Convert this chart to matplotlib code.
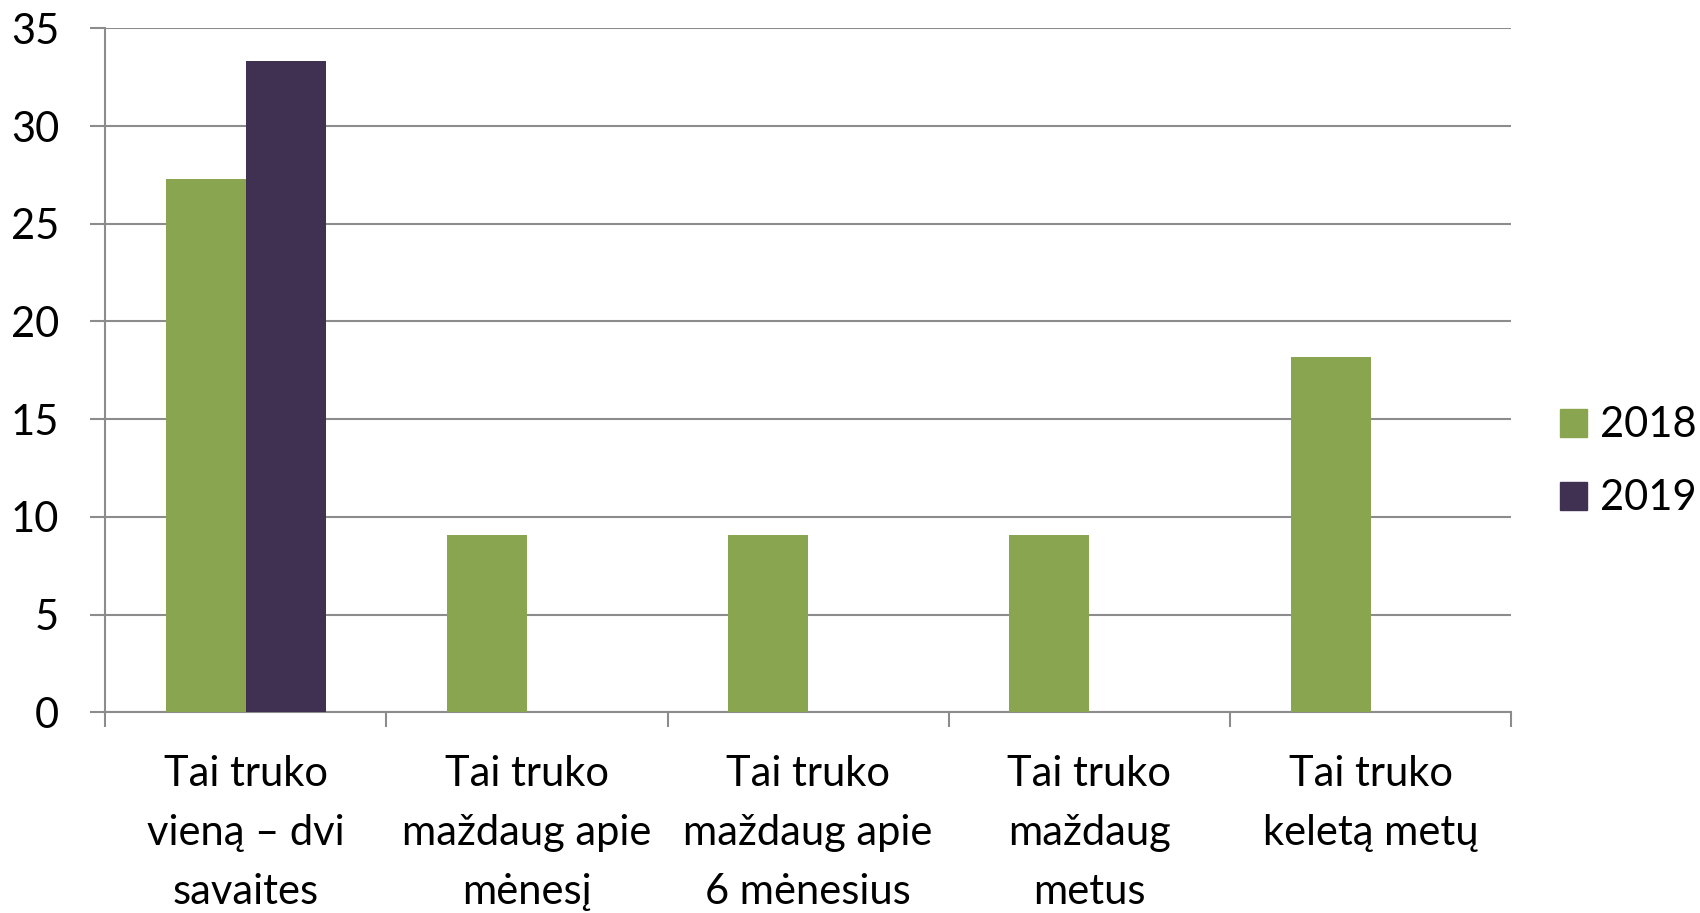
"""Grouped bar chart: kiek truko (2018 vs 2019)."""

import matplotlib as mpl
import matplotlib.pyplot as plt
import numpy as np
from matplotlib.patches import Patch

GREEN = "#8AA550"
PURPLE = "#403152"
GRID = "#8C8C8C"
INK = "#000000"

CATEGORIES = [
    "Tai truko\nvieną – dvi\nsavaites",
    "Tai truko\nmaždaug apie\nmėnesį",
    "Tai truko\nmaždaug apie\n6 mėnesius",
    "Tai truko\nmaždaug\nmetus",
    "Tai truko\nkeletą metų",
]
SERIES = ["2018", "2019"]
VALUES_2018 = [27.27, 9.09, 9.09, 9.09, 18.18]
VALUES_2019 = [33.33, 0, 0, 0, 0]
Y_TICKS = [0, 5, 10, 15, 20, 25, 30, 35]

mpl.rcParams.update(
    {
        "font.family": ["Lato", "DejaVu Sans"],
        "font.size": 30,
        "text.color": INK,
        "xtick.color": GRID,
        "ytick.color": GRID,
        "xtick.labelcolor": INK,
        "ytick.labelcolor": INK,
    }
)

fig = plt.figure(figsize=(17, 9.13), dpi=100)
ax = fig.add_axes([0.0618, 0.2198, 0.889 - 0.0618, 0.969 - 0.2198])

x = np.arange(len(CATEGORIES))
w = 0.285
ax.bar(x - w / 2, VALUES_2018, width=w, color=GREEN, zorder=3, linewidth=0)
ax.bar(x + w / 2, VALUES_2019, width=w, color=PURPLE, zorder=3, linewidth=0)

ax.set_xlim(-0.5, len(CATEGORIES) - 0.5)
ax.set_ylim(0, 35)
ax.set_yticks(Y_TICKS)
ax.grid(axis="y", color=GRID, lw=1.5, zorder=0)
ax.set_axisbelow(True)

for side in ["top", "right"]:
    ax.spines[side].set_visible(False)
for side in ["left", "bottom"]:
    ax.spines[side].set_color(GRID)
    ax.spines[side].set_linewidth(1.5)

ax.set_xticks(x)
ax.set_xticklabels(CATEGORIES, linespacing=1.67)
ax.set_xticks(np.arange(len(CATEGORIES) + 1) - 0.5, minor=True)
ax.tick_params(axis="x", which="major", length=0, pad=31)
ax.tick_params(axis="x", which="minor", length=11, width=1.5, direction="out")
ax.tick_params(axis="y", length=11, width=1.5, pad=22)

handles = [Patch(color=GREEN, label=SERIES[0]), Patch(color=PURPLE, label=SERIES[1])]
fig.legend(
    handles=handles,
    loc="center left",
    bbox_to_anchor=(0.9078, 0.494),
    frameon=False,
    handlelength=0.65,
    handleheight=0.65,
    handletextpad=0.3,
    labelspacing=0.84,
    borderaxespad=0,
)

fig.savefig("out.png", dpi=100)
